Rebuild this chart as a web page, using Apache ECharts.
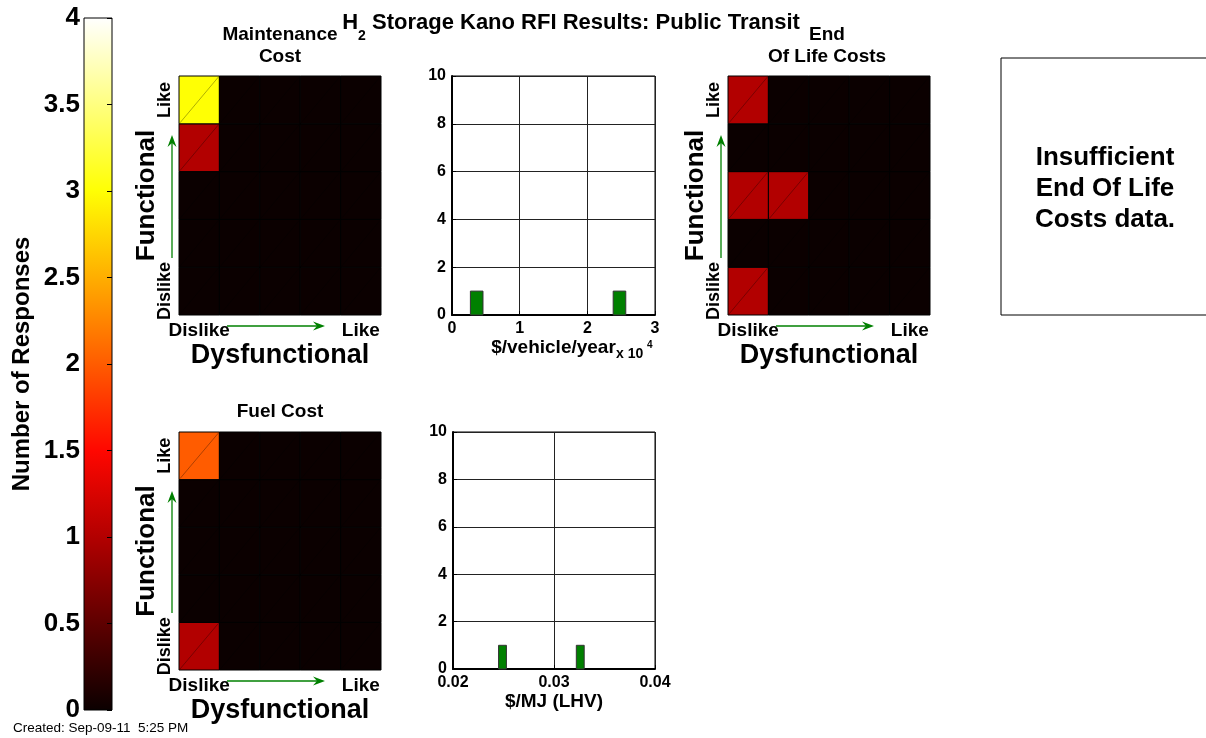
<!DOCTYPE html>
<html>
<head>
<meta charset="utf-8" />
<title>H2 Storage Kano RFI Results: Public Transit</title>
<style>
  html, body { margin: 0; padding: 0; background: #fff; }
  #main { width: 1206px; height: 738px; }
</style>
</head>
<body>
<div id="main"></div>
<script src="https://cdn.jsdelivr.net/npm/echarts@6/dist/echarts.min.js"></script>
<script>
// Kano answer levels, worst to best (x = dysfunctional answer, y = functional answer)
var kanoLevels = ['Dislike', 'Live with', 'Neutral', 'Must be', 'Like'];

// response counts: one row per functional answer (Dislike first), one column per dysfunctional answer
var maintenanceCounts = [
  [0, 0, 0, 0, 0],
  [0, 0, 0, 0, 0],
  [0, 0, 0, 0, 0],
  [1, 0, 0, 0, 0],
  [3, 0, 0, 0, 0]
];
var endOfLifeCounts = [
  [1, 0, 0, 0, 0],
  [0, 0, 0, 0, 0],
  [1, 1, 0, 0, 0],
  [0, 0, 0, 0, 0],
  [1, 0, 0, 0, 0]
];
var fuelCounts = [
  [1, 0, 0, 0, 0],
  [0, 0, 0, 0, 0],
  [0, 0, 0, 0, 0],
  [0, 0, 0, 0, 0],
  [2, 0, 0, 0, 0]
];

// quoted values, histogram bins
var maintenanceCost = [3650, 24750];     // $/vehicle/year, bin centres
var maintenanceHits = [1, 1];
var maintenanceBin = 1860;
var fuelCost = [0.0249, 0.0326];         // $/MJ (LHV), bin centres
var fuelHits = [1, 1];
var fuelBin = 0.00078;

var FONT = "'Liberation Sans', Arial, Helvetica, sans-serif";
// MATLAB "hot" colormap, evenly spaced from 0 to 4 responses
var hot = ['#0b0000', '#5e0000', '#b20000', '#ff0700', '#ff5c00', '#ffae00', '#ffff04', '#ffff80', '#ffffff'];

var box = {
  bar:   { left: 84,  top: 18,  width: 28,  height: 692 },
  mHeat: { left: 179, top: 76,  width: 202, height: 239 },
  mHist: { left: 452, top: 76,  width: 203, height: 239 },
  eHeat: { left: 728, top: 76,  width: 202, height: 239 },
  fHeat: { left: 179, top: 432, width: 202, height: 238 },
  fHist: { left: 453, top: 432, width: 202, height: 237 }
};

function gridOf(b, framed) {
  var g = { left: b.left, top: b.top, width: b.width, height: b.height,
            containLabel: false, outerBoundsMode: 'none' };
  if (framed) { g.show = true; g.borderColor = '#000'; g.borderWidth = 1; g.backgroundColor = '#fff'; }
  return g;
}

function cells(m) {
  var out = [];
  for (var r = 0; r < m.length; r++)
    for (var c = 0; c < m[r].length; c++)
      out.push([kanoLevels[c], kanoLevels[r], m[r][c]]);
  return out;
}

function pairs(xs, ys) {
  return xs.map(function (x, i) { return [x, ys[i]]; });
}

function edgeLabel(v, i) { return (i === 0 || i === kanoLevels.length - 1) ? v : ''; }

function heatX(gi) {
  return {
    gridIndex: gi, type: 'category', data: kanoLevels,
    axisLine: { show: false }, axisTick: { show: false }, splitLine: { show: false },
    axisLabel: { interval: 0, formatter: edgeLabel, margin: 6, fontSize: 19, fontWeight: 'bold', color: '#000', fontFamily: FONT },
    name: 'Dysfunctional', nameLocation: 'middle', nameGap: 27, nameMoveOverlap: false,
    nameTextStyle: { fontSize: 27, fontWeight: 'bold', color: '#000', fontFamily: FONT }
  };
}
function heatY(gi) {
  return {
    gridIndex: gi, type: 'category', data: kanoLevels,
    axisLine: { show: false }, axisTick: { show: false }, splitLine: { show: false },
    axisLabel: { interval: 0, formatter: edgeLabel, rotate: 90, margin: 5, fontSize: 18, fontWeight: 'bold', color: '#000', fontFamily: FONT },
    name: 'Functional', nameLocation: 'middle', nameGap: 19, nameRotate: 90, nameMoveOverlap: false,
    nameTextStyle: { fontSize: 26, fontWeight: 'bold', color: '#000', fontFamily: FONT }
  };
}
function histAxis(gi, min, max, step, fmt, name) {
  return {
    gridIndex: gi, type: 'value', min: min, max: max, interval: step,
    axisLine: { show: true, lineStyle: { color: '#000', width: 2 } },
    axisTick: { show: true, inside: true, length: 4, lineStyle: { color: '#000' } },
    splitLine: { show: true, lineStyle: { color: '#222', width: 1 } },
    axisLabel: { formatter: fmt, margin: 6, fontSize: 16, fontWeight: 'bold', color: '#000', fontFamily: FONT },
    name: name || '', nameLocation: 'middle', nameGap: 22,
    nameTextStyle: { fontSize: 19, fontWeight: 'bold', color: '#000', fontFamily: FONT }
  };
}

function renderCell(params, api) {
  var c = api.coord([api.value(0), api.value(1)]);
  var s = api.size([1, 1]);
  var x = c[0] - s[0] / 2, y = c[1] - s[1] / 2;
  return {
    type: 'group',
    children: [
      { type: 'rect', shape: { x: x, y: y, width: s[0], height: s[1] },
        style: { fill: api.visual('color'), stroke: '#000', lineWidth: 1 } },
      { type: 'line', shape: { x1: x + 1, y1: y + s[1] - 1, x2: x + s[0] - 1, y2: y + 1 },
        style: { stroke: 'rgba(0,0,0,0.4)', lineWidth: 0.8 } }
    ]
  };
}

function barRenderer(w) {
  return function (params, api) {
    var x = api.value(0), n = api.value(1);
    var a = api.coord([x - w / 2, n]);
    var b = api.coord([x + w / 2, 0]);
    return { type: 'rect', shape: { x: a[0], y: a[1], width: b[0] - a[0], height: b[1] - a[1] },
             style: { fill: '#008000', stroke: '#333', lineWidth: 1 } };
  };
}

function arrows(b) {
  var g = '#008000';
  var L = b.left, T = b.top, B = b.top + b.height;
  var hy = B + 11, hx0 = L + 48, hx1 = L + 146;
  var vx = L - 7, vy0 = B - 57, vy1 = T + 59;
  return [
    { type: 'line', z: 100, shape: { x1: hx0, y1: hy, x2: hx1 - 6, y2: hy }, style: { stroke: g, lineWidth: 1.3 } },
    { type: 'polygon', z: 100, shape: { points: [[hx1, hy], [hx1 - 12, hy - 4.5], [hx1 - 8, hy], [hx1 - 12, hy + 4.5]] }, style: { fill: g } },
    { type: 'line', z: 100, shape: { x1: vx, y1: vy0, x2: vx, y2: vy1 + 6 }, style: { stroke: g, lineWidth: 1.3 } },
    { type: 'polygon', z: 100, shape: { points: [[vx, vy1], [vx - 4.5, vy1 + 12], [vx, vy1 + 8], [vx + 4.5, vy1 + 12]] }, style: { fill: g } }
  ];
}

function label(x, y, text, size, extra) {
  var st = { text: text, fontSize: size, fontWeight: 'bold', fontFamily: FONT, fill: '#000',
             align: 'center', verticalAlign: 'middle' };
  for (var k in extra) st[k] = extra[k];
  return { type: 'text', x: x, y: y, z: 100, style: st };
}

var barStops = hot.map(function (c, i) { return { offset: i / (hot.length - 1), color: c }; });

var graphics = [
  { type: 'rect', z: 1, shape: { x: box.bar.left, y: box.bar.top, width: box.bar.width, height: box.bar.height },
    style: { fill: new echarts.graphic.LinearGradient(0, 1, 0, 0, barStops), stroke: '#000', lineWidth: 1 } },
  { type: 'text', x: 571, y: 3, z: 100, style: {
      text: '{m|H}{s|2}{m| Storage Kano RFI Results: Public Transit}', align: 'center',
      rich: {
        m: { fontSize: 22, fontWeight: 'bold', fontFamily: FONT, fill: '#000', lineHeight: 40, verticalAlign: 'middle' },
        s: { fontSize: 14, fontWeight: 'bold', fontFamily: FONT, fill: '#000', lineHeight: 14, verticalAlign: 'bottom' }
      } } },
  label(280, 46, 'Maintenance\nCost', 19, { lineHeight: 22 }),
  label(827, 46, 'End\nOf Life Costs', 19, { lineHeight: 22 }),
  label(280, 412, 'Fuel Cost', 19),
  { type: 'rect', z: 1, shape: { x: 1001, y: 58, width: 230, height: 257 },
    style: { fill: '#fff', stroke: '#000', lineWidth: 1 } },
  label(1105, 189, 'Insufficient\nEnd Of Life\nCosts data.', 26, { lineHeight: 31 }),
  label(616, 354, 'x 10', 14, { align: 'left' }),
  label(647, 345, '4', 10, { align: 'left' }),
  { type: 'text', x: 13, y: 728, z: 100, style: { text: 'Created: Sep-09-11  5:25 PM', fontSize: 13.5,
      fontFamily: FONT, fill: '#000', verticalAlign: 'middle' } }
].concat(arrows(box.mHeat), arrows(box.eHeat), arrows(box.fHeat));

var option = {
  backgroundColor: '#fff',
  animation: false,
  textStyle: { fontFamily: FONT },
  grid: [gridOf(box.bar), gridOf(box.mHeat), gridOf(box.mHist, true),
         gridOf(box.eHeat), gridOf(box.fHeat), gridOf(box.fHist, true)],
  xAxis: [
    { gridIndex: 0, type: 'value', min: 0, max: 1, show: false },
    heatX(1),
    histAxis(2, 0, 30000, 10000, function (v) { return String(v / 10000); }, '$/vehicle/year'),
    heatX(3),
    heatX(4),
    histAxis(5, 0.02, 0.04, 0.01, function (v) { return v.toFixed(2); }, '$/MJ (LHV)')
  ],
  yAxis: [
    { gridIndex: 0, type: 'value', min: 0, max: 4, interval: 0.5, z: 5,
      axisLine: { show: false }, axisTick: { show: false }, splitLine: { show: false },
      axisLabel: { margin: 4, fontSize: 26, fontWeight: 'bold', color: '#000', fontFamily: FONT },
      name: 'Number of Responses', nameLocation: 'middle', nameRotate: 90, nameGap: 50,
      nameTextStyle: { fontSize: 24, fontWeight: 'bold', color: '#000', fontFamily: FONT } },
    heatY(1),
    histAxis(2, 0, 10, 2),
    heatY(3),
    heatY(4),
    histAxis(5, 0, 10, 2),
    { gridIndex: 0, type: 'value', position: 'right', min: 0, max: 4, interval: 0.5, z: 5,
      axisLine: { show: false }, axisLabel: { show: false }, splitLine: { show: false },
      axisTick: { show: true, inside: true, length: 5, lineStyle: { color: '#000' } } }
  ],
  visualMap: {
    type: 'continuous', show: false, min: 0, max: 4, dimension: 2,
    seriesIndex: [0, 1, 2], inRange: { color: hot }
  },
  series: [
    { type: 'custom', name: 'Maintenance Cost', xAxisIndex: 1, yAxisIndex: 1, encode: { x: 0, y: 1 },
      renderItem: renderCell, data: cells(maintenanceCounts) },
    { type: 'custom', name: 'End Of Life Costs', xAxisIndex: 3, yAxisIndex: 3, encode: { x: 0, y: 1 },
      renderItem: renderCell, data: cells(endOfLifeCounts) },
    { type: 'custom', name: 'Fuel Cost', xAxisIndex: 4, yAxisIndex: 4, encode: { x: 0, y: 1 },
      renderItem: renderCell, data: cells(fuelCounts) },
    { type: 'custom', name: 'Maintenance Cost values', xAxisIndex: 2, yAxisIndex: 2, encode: { x: 0, y: 1 },
      renderItem: barRenderer(maintenanceBin), data: pairs(maintenanceCost, maintenanceHits) },
    { type: 'custom', name: 'Fuel Cost values', xAxisIndex: 5, yAxisIndex: 5, encode: { x: 0, y: 1 },
      renderItem: barRenderer(fuelBin), data: pairs(fuelCost, fuelHits) }
  ],
  graphic: graphics
};

var chart = echarts.init(document.getElementById('main'));
chart.setOption(option);
</script>
</body>
</html>
